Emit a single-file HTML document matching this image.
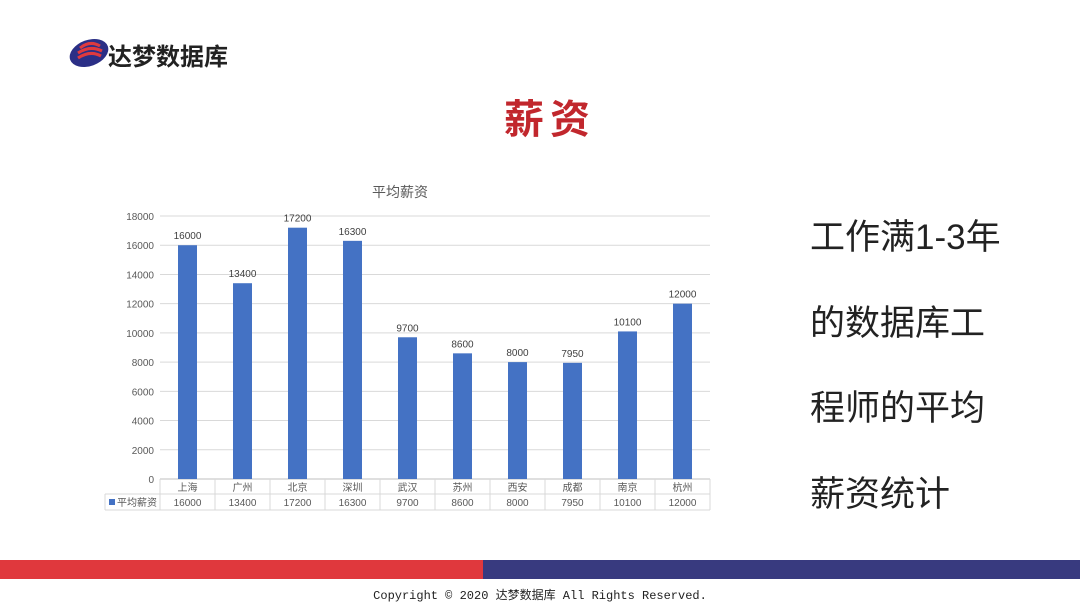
<!DOCTYPE html>
<html><head><meta charset="utf-8"><style>
body{margin:0;width:1080px;height:607px;background:#fff;overflow:hidden;position:relative;font-family:"Liberation Sans","Noto Sans CJK SC",sans-serif}
.abs{position:absolute}
</style></head><body>
<div class="abs" style="left:68px;top:36px;width:170px;height:34px">
<svg width="44" height="34"><ellipse cx="21" cy="17" rx="20" ry="13" fill="#2b2f86" transform="rotate(-20 21 17)"/><path d="M12 12 Q22 4 32 10 M10 17 Q22 9 34 15 M10 22 Q22 14 33 20" stroke="#e03a3e" stroke-width="3" fill="none"/></svg>
<span class="abs" style="left:40px;top:1px;font-size:24px;font-weight:bold;color:#222;white-space:nowrap">达梦数据库</span>
</div>
<div class="abs" style="left:504px;top:87px;font-size:40px;font-weight:bold;color:#c1272d;letter-spacing:6px">薪资</div>
<div class="abs" style="left:810px;top:195px;font-size:35px;line-height:85.5px;color:#222;white-space:nowrap">工作满1-3年<br>的数据库工<br>程师的平均<br>薪资统计</div>
<svg class="abs" style="left:0;top:0" width="1080" height="560" id="chart"></svg>
<div class="abs" style="left:0;top:560px;width:483px;height:19px;background:#e0383d"></div>
<div class="abs" style="left:483px;top:560px;width:597px;height:19px;background:#383a7f"></div>
<div class="abs" style="left:0;width:1080px;top:586px;text-align:center;font-family:'Liberation Mono','Noto Sans CJK SC',monospace;font-size:12px;color:#222">Copyright © 2020 达梦数据库 All Rights Reserved.</div>
<script>
const categories=["上海","广州","北京","深圳","武汉","苏州","西安","成都","南京","杭州"];
const values=[16000,13400,17200,16300,9700,8600,8000,7950,10100,12000];
const ticks=[0,2000,4000,6000,8000,10000,12000,14000,16000,18000];
const svg=document.getElementById('chart');const NS='http://www.w3.org/2000/svg';
const x0=160,x1=710,yBase=479,yTop=216,maxV=18000;
const bw=(x1-x0)/categories.length;
const y=v=>yBase-(v/maxV)*(yBase-yTop);
function mk(t,a,txt){const e=document.createElementNS(NS,t);for(const k in a)e.setAttribute(k,a[k]);if(txt!=null)e.textContent=txt;svg.appendChild(e);return e;}
let e=mk('text',{x:400,y:197,'text-anchor':'middle','font-size':14,fill:'#595959'},'平均薪资');

ticks.forEach(t=>{
 let g=mk('line',{x1:x0,x2:x1,y1:y(t),y2:y(t),stroke:t?'#d9d9d9':'#bfbfbf','stroke-width':1});
 
 let l=mk('text',{x:154,y:y(t)+4,'text-anchor':'end','font-size':10,fill:'#595959'},t);
 
});
categories.forEach((c,i)=>{
 const cx=x0+bw*(i+0.5);
 let r=mk('rect',{x:cx-9.5,y:y(values[i]),width:19,height:yBase-y(values[i]),fill:'#4472c4'});
 
 let v=mk('text',{x:cx,y:y(values[i])-6,'text-anchor':'middle','font-size':10,fill:'#404040'},values[i]);
 
 let ct=mk('text',{x:cx,y:491,'text-anchor':'middle','font-size':10,fill:'#595959'},c);
 
 let tv=mk('text',{x:cx,y:506,'text-anchor':'middle','font-size':10,fill:'#595959'},values[i]);
 
});
for(let i=0;i<=categories.length;i++){let l=mk('line',{x1:x0+bw*i,x2:x0+bw*i,y1:479,y2:510,stroke:'#d9d9d9'});}
[494,510].forEach(yy=>{let l=mk('line',{x1:105,x2:x1,y1:yy,y2:yy,stroke:'#d9d9d9'});});
let lv=mk('line',{x1:105,x2:105,y1:494,y2:510,stroke:'#d9d9d9'});
let lk=mk('rect',{x:109,y:499,width:6,height:6,fill:'#4472c4'});
let lt=mk('text',{x:117,y:506,'font-size':10,fill:'#595959'},'平均薪资');
</script>
</body></html>
